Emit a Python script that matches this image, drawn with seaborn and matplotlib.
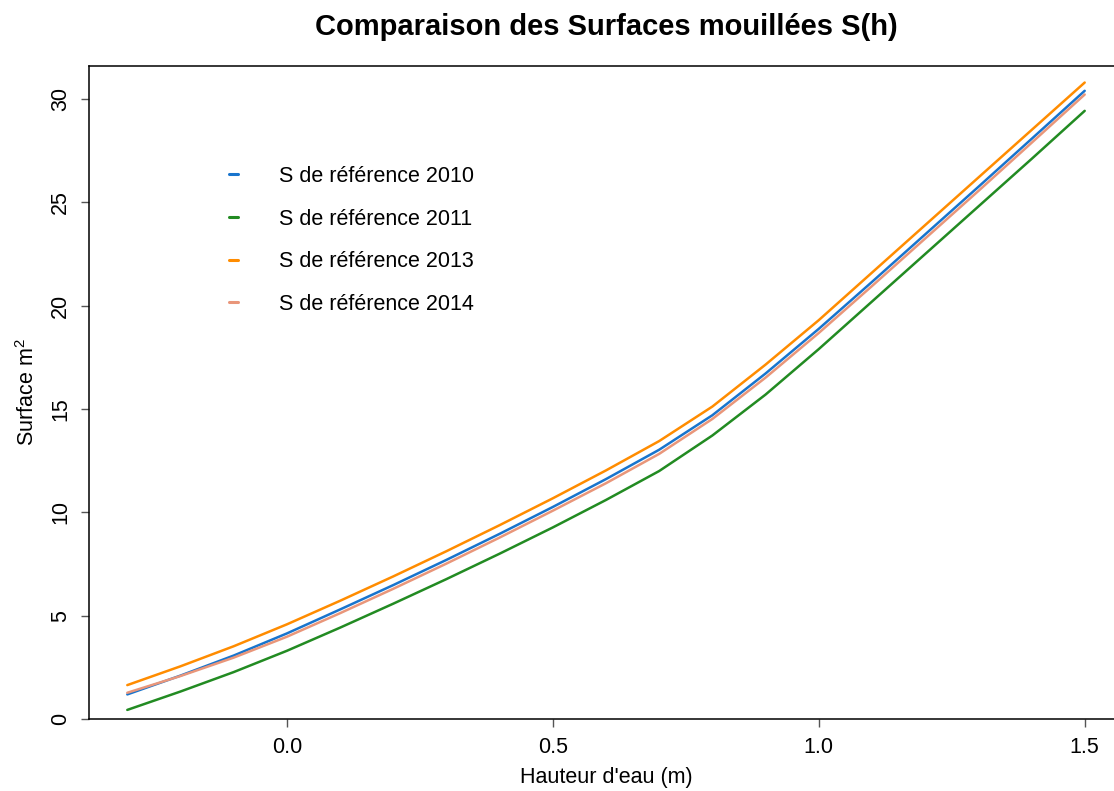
import numpy as np
import pandas as pd
import matplotlib
matplotlib.use("Agg")
import matplotlib.pyplot as plt
import seaborn as sns
from matplotlib.lines import Line2D

# Water height (m)
hauteur = [-0.3, -0.2, -0.1, 0.0, 0.1, 0.2, 0.3, 0.4, 0.5, 0.6,
           0.7, 0.8, 0.9, 1.0, 1.1, 1.2, 1.3, 1.4, 1.5]

# Wetted surface S(h) (m^2) for each reference year
s_2010 = [1.19, 2.10, 3.07, 4.14, 5.30, 6.48, 7.70, 8.96, 10.26, 11.61,
          13.03, 14.70, 16.72, 18.88, 21.15, 23.45, 25.75, 28.07, 30.40]
s_2011 = [0.44, 1.33, 2.27, 3.30, 4.42, 5.58, 6.77, 8.00, 9.27, 10.60,
          12.00, 13.72, 15.70, 17.90, 20.20, 22.50, 24.80, 27.10, 29.43]
s_2013 = [1.64, 2.55, 3.52, 4.58, 5.72, 6.90, 8.12, 9.38, 10.68, 12.03,
          13.45, 15.12, 17.15, 19.30, 21.60, 23.90, 26.20, 28.50, 30.80]
s_2014 = [1.27, 2.08, 2.97, 3.98, 5.12, 6.30, 7.52, 8.78, 10.08, 11.41,
          12.83, 14.52, 16.52, 18.68, 20.95, 23.25, 25.55, 27.88, 30.22]

labels = ["S de référence 2010", "S de référence 2011",
          "S de référence 2013", "S de référence 2014"]
series = [s_2010, s_2011, s_2013, s_2014]
colors = ["#1874CD", "#228B22", "#FF8C00", "#E9967A"]

x_ticks = [0.0, 0.5, 1.0, 1.5]
y_ticks = [0, 5, 10, 15, 20, 25, 30]

df = pd.concat(
    [pd.DataFrame({"h": hauteur, "S": s, "serie": lab})
     for s, lab in zip(series, labels)],
    ignore_index=True,
)

sns.set_theme(style="white")
plt.rcParams["font.family"] = ["Liberation Sans", "DejaVu Sans"]
plt.rcParams["mathtext.fontset"] = "custom"
plt.rcParams["mathtext.rm"] = "Liberation Sans"
plt.rcParams["mathtext.it"] = "Liberation Sans"
for key in ["text.color", "axes.labelcolor", "xtick.color", "ytick.color"]:
    plt.rcParams[key] = "black"

W, H = 1114, 791
fig = plt.figure(figsize=(W / 100, H / 100), dpi=100)
fig.patch.set_facecolor("white")
left, right, top, bottom = 89, 1123, 66, 719
ax = fig.add_axes([left / W, 1 - bottom / H, (right - left) / W, (bottom - top) / H])
ax.set_facecolor("white")

sns.lineplot(data=df, x="h", y="S", hue="serie", hue_order=labels,
             palette=colors, linewidth=1.8, legend=False, ax=ax,
             estimator=None, sort=False)

ax.set_xlim(-0.372, 1.572)
ax.set_ylim(0, 31.6)
ax.set_xticks(x_ticks)
ax.set_xticklabels([f"{v:.1f}" for v in x_ticks])
ax.set_yticks(y_ticks)
ax.set_yticklabels([str(v) for v in y_ticks], rotation=90, va="center")

fs = 15.5
ax.tick_params(axis="both", which="major", direction="out", length=6,
               width=1, color="#555555", labelsize=fs, pad=7,
               bottom=True, left=True, labelcolor="black")
for sp in ax.spines.values():
    sp.set_color("black")
    sp.set_linewidth(1.1)
    sp.set_visible(True)

ax.set_xlabel("Hauteur d'eau (m)", fontsize=fs, va="center", color="black")
ax.xaxis.set_label_coords(0.5, -(777 - bottom) / (bottom - top))
ax.set_ylabel("Surface m$^{2}$", fontsize=fs, va="center", color="black")
ax.yaxis.set_label_coords(-(left - 28) / (right - left), 0.5)

fig.text((left + right) / 2 / W, 1 - 27 / H,
         "Comparaison des Surfaces mouillées S(h)",
         ha="center", va="center", fontsize=21, fontweight="bold",
         color="black")

handles = [Line2D([0], [0], color=c, linewidth=2.2) for c in colors]
ax.legend(handles, labels, loc="upper left", frameon=False,
          bbox_to_anchor=(229 / W, 1 - 166 / H), bbox_transform=fig.transFigure,
          fontsize=fs, handlelength=0.4, handletextpad=1.9,
          labelspacing=1.0, borderpad=0, borderaxespad=0)

fig.savefig("out.png", dpi=100, facecolor="white")
